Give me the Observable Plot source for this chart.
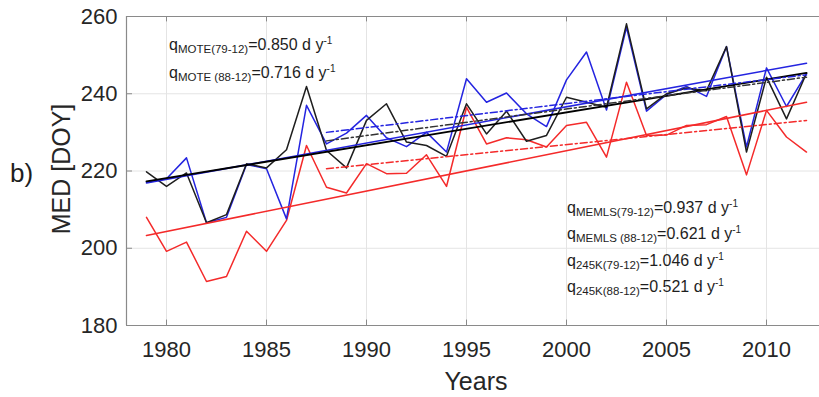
<!DOCTYPE html>
<html><head><meta charset="utf-8">
<script src="https://cdn.jsdelivr.net/npm/d3@7"></script>
<script src="https://cdn.jsdelivr.net/npm/@observablehq/plot@0.6"></script>
<style>
html,body{margin:0;padding:0;background:#fff;overflow:hidden;}
#chart svg{display:block;}
</style></head><body><div id="chart"></div>
<script>
const years = [1979,1980,1981,1982,1983,1984,1985,1986,1987,1988,1989,1990,1991,1992,1993,1994,1995,1996,1997,1998,1999,2000,2001,2002,2003,2004,2005,2006,2007,2008,2009,2010,2011,2012];
const red245K = [208.0,199.2,201.6,191.4,192.7,204.4,199.2,207.2,226.6,215.8,214.3,221.9,219.3,219.4,224.2,216.0,236.5,227.0,228.6,228.1,226.2,231.8,232.6,223.6,243.0,229.2,229.3,231.8,232.0,234.1,219.0,235.7,228.8,224.9];
const blueMEMLS = [217.1,218.0,223.4,206.6,208.0,221.7,220.6,207.6,237.0,227.0,229.8,234.4,228.6,226.3,230.0,224.9,243.9,237.8,240.2,234.8,231.5,243.6,250.8,235.8,257.2,235.5,239.8,241.9,239.3,252.2,226.2,246.7,236.7,245.2];
const blackMOTE = [219.8,216.0,219.5,206.6,208.7,221.9,220.8,225.5,241.9,225.3,220.8,233.1,237.4,227.5,226.6,223.8,237.4,229.6,235.5,227.7,229.2,239.1,237.8,236.5,258.1,236.1,240.0,241.5,240.8,252.2,224.9,244.3,233.5,245.3];

// trend line end points
const trendFullYears = [1979, 2012];
const trendFullRed = [203.3, 237.8];
const trendFullBlue = [216.9, 247.9];
const trendFullBlack = [217.3, 245.4];
const trend88Years = [1988, 2012];
const trend88Red = [220.6, 233.1];
const trend88Blue = [230.0, 244.9];
const trend88Black = [227.8, 244.3];

const xTicks = [1980,1985,1990,1995,2000,2005,2010];
const yTicks = [180,200,220,240,260];

const annotationsLeft = [
  {sub: "MOTE(79-12)", val: "=0.850 d y", sup: "-1"},
  {sub: "MOTE (88-12)", val: "=0.716 d y", sup: "-1"}
];
const annotationsRight = [
  {sub: "MEMLS(79-12)", val: "=0.937 d y", sup: "-1"},
  {sub: "MEMLS (88-12)", val: "=0.621 d y", sup: "-1"},
  {sub: "245K(79-12)", val: "=1.046 d y", sup: "-1"},
  {sub: "245K(88-12)", val: "=0.521 d y", sup: "-1"}
];

const rows = years.map((y, i) => ({year: y, red: red245K[i], blue: blueMEMLS[i], black: blackMOTE[i]}));
const tFull = trendFullYears.map((y, i) => ({year: y, red: trendFullRed[i], blue: trendFullBlue[i], black: trendFullBlack[i]}));
const t88 = trend88Years.map((y, i) => ({year: y, red: trend88Red[i], blue: trend88Blue[i], black: trend88Black[i]}));

const RED = "#f42a2a", BLUE = "#2424e0", BLACK = "#1e1e1e";
const AX = "#8a8a8a", GRID = "#e4e4e4";
const DASH = "7,3,2,3";

const plot = Plot.plot({
  width: 819, height: 397,
  marginLeft: 126, marginRight: 0, marginTop: 16, marginBottom: 72,
  style: {fontFamily: "'Liberation Sans', Arial, sans-serif", background: "#fff", overflow: "visible"},
  x: {domain: [1978, 2012.65]},
  y: {domain: [180, 260]},
  marks: [
    Plot.gridX(xTicks, {stroke: GRID, strokeOpacity: 1}),
    Plot.gridY(yTicks, {stroke: GRID, strokeOpacity: 1}),
    Plot.axisX(xTicks, {tickSize: 0, tickPadding: 16, fontSize: 22, fill: "#262626", label: null, tickFormat: d => String(d)}),
    Plot.axisY(yTicks, {tickSize: 0, tickPadding: 9, fontSize: 22, fill: "#262626", label: null}),
    Plot.ruleY([180, 260], {stroke: AX, strokeWidth: 1.2}),
    Plot.ruleX([1978], {stroke: AX, strokeWidth: 1.2}),
    Plot.ruleX(xTicks, {y1: 180, y2: 181.4, stroke: AX}),
    Plot.ruleX(xTicks, {y1: 258.6, y2: 260, stroke: AX}),
    Plot.ruleY(yTicks, {x1: 1978, x2: 1978.3, stroke: AX}),
    Plot.line(rows, {x: "year", y: "red", stroke: RED, strokeWidth: 1.5}),
    Plot.line(rows, {x: "year", y: "blue", stroke: BLUE, strokeWidth: 1.5}),
    Plot.line(rows, {x: "year", y: "black", stroke: BLACK, strokeWidth: 1.5}),
    Plot.line(tFull, {x: "year", y: "red", stroke: RED, strokeWidth: 1.6}),
    Plot.line(tFull, {x: "year", y: "blue", stroke: BLUE, strokeWidth: 1.6}),
    Plot.line(tFull, {x: "year", y: "black", stroke: "#000", strokeWidth: 1.9}),
    Plot.line(t88, {x: "year", y: "red", stroke: RED, strokeWidth: 1.5, strokeDasharray: DASH}),
    Plot.line(t88, {x: "year", y: "blue", stroke: BLUE, strokeWidth: 1.5, strokeDasharray: DASH}),
    Plot.line(t88, {x: "year", y: "black", stroke: "#333", strokeWidth: 1.5, strokeDasharray: DASH})
  ]
});
document.getElementById("chart").appendChild(plot);

const svg = d3.select(plot);
const font = "'Liberation Sans', Arial, sans-serif";
function qText(x, y, a) {
  const t = svg.append("text").attr("x", x).attr("y", y).attr("font-family", font)
    .attr("text-anchor", "start").attr("font-size", 16).attr("fill", "#1e1e1e");
  t.append("tspan").text("q");
  t.append("tspan").attr("font-size", 11.5).attr("dy", 3).text(a.sub);
  t.append("tspan").attr("font-size", 16).attr("dy", -3).text(a.val);
  t.append("tspan").attr("font-size", 10).attr("dy", -6).text(a.sup);
}
annotationsLeft.forEach((a, i) => qText(169, 50 + i * 28, a));
annotationsRight.forEach((a, i) => qText(567, 213 + i * 26.3, a));

svg.append("text").attr("x", 476).attr("y", 390).attr("text-anchor", "middle")
  .attr("font-family", font).attr("font-size", 25).attr("fill", "#262626").text("Years");
svg.append("text").attr("transform", "translate(70,169) rotate(-90)").attr("text-anchor", "middle")
  .attr("font-family", font).attr("font-size", 25).attr("fill", "#262626").text("MED [DOY]");
svg.append("text").attr("x", 10).attr("y", 182).attr("text-anchor", "start")
  .attr("font-family", font).attr("font-size", 26).attr("fill", "#1e1e1e").text("b)");
</script></body></html>
